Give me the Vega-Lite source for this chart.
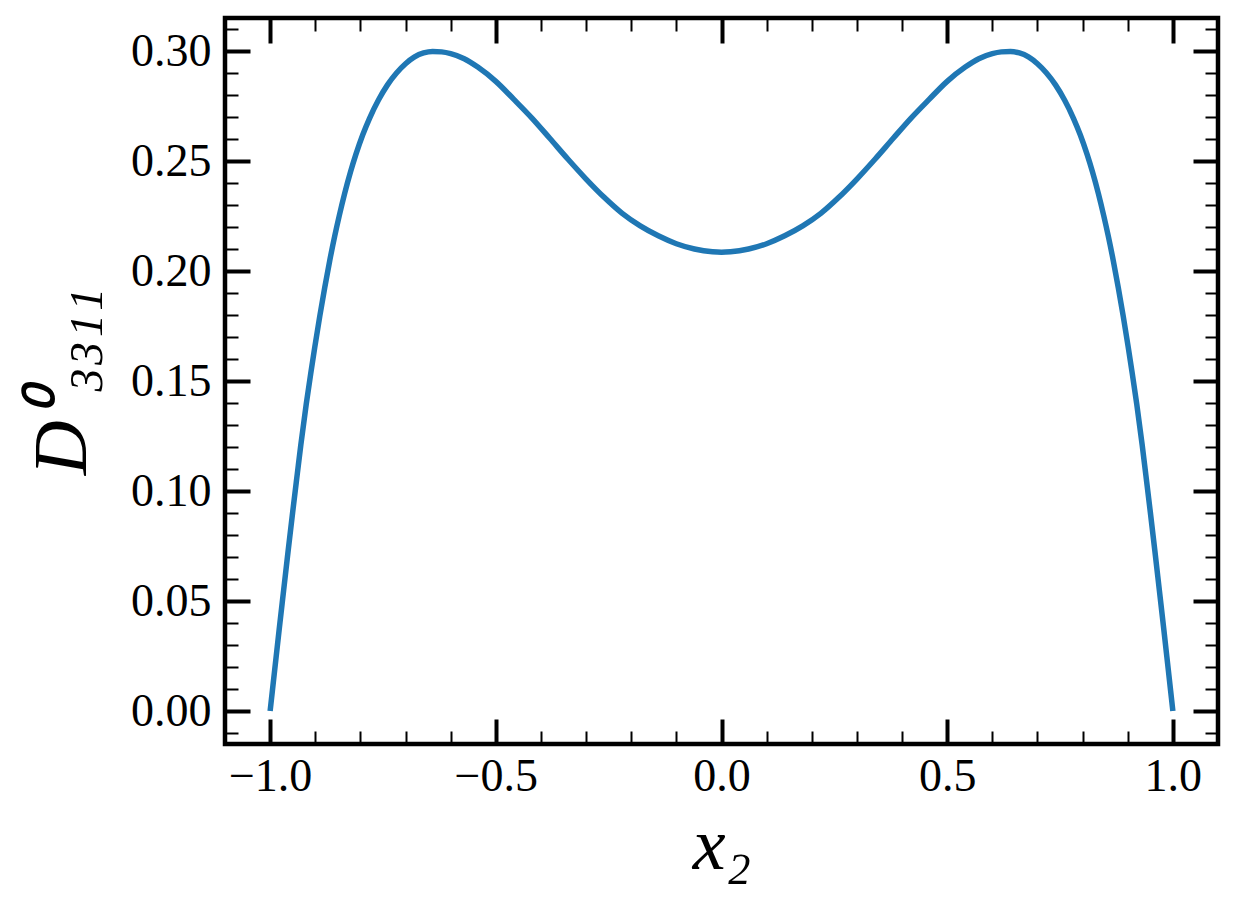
{
  "$schema": "https://vega.github.io/schema/vega-lite/v6.json",
  "autosize": "none",
  "width": 993,
  "height": 726,
  "padding": {"left": 225, "top": 18, "right": 19, "bottom": 164},
  "background": "white",
  "config": {
    "view": {"stroke": "black", "strokeWidth": 4.5},
    "font": "Liberation Serif",
    "axis": {"domain": false, "grid": false, "tickColor": "black", "labelColor": "black", "titleColor": "black"}
  },
  "data": {"values": [
    {"x": -1.0, "y": 0.0}, {"x": -0.99, "y": 0.0185}, {"x": -0.98, "y": 0.037}, {"x": -0.97, "y": 0.055},
    {"x": -0.96, "y": 0.073}, {"x": -0.95, "y": 0.0905}, {"x": -0.94, "y": 0.1075}, {"x": -0.932, "y": 0.121},
    {"x": -0.92, "y": 0.1395}, {"x": -0.91, "y": 0.1535}, {"x": -0.901, "y": 0.1655}, {"x": -0.89, "y": 0.1795},
    {"x": -0.879, "y": 0.1925}, {"x": -0.868, "y": 0.2047}, {"x": -0.857, "y": 0.2158}, {"x": -0.847, "y": 0.225},
    {"x": -0.835, "y": 0.2352}, {"x": -0.822, "y": 0.245}, {"x": -0.81, "y": 0.253}, {"x": -0.795, "y": 0.2618},
    {"x": -0.78, "y": 0.2693}, {"x": -0.76, "y": 0.2777}, {"x": -0.74, "y": 0.2846}, {"x": -0.72, "y": 0.29},
    {"x": -0.7, "y": 0.2942}, {"x": -0.68, "y": 0.2973}, {"x": -0.66, "y": 0.2991}, {"x": -0.64, "y": 0.2998},
    {"x": -0.62, "y": 0.2996}, {"x": -0.6, "y": 0.2988}, {"x": -0.57, "y": 0.2965}, {"x": -0.54, "y": 0.2927},
    {"x": -0.5, "y": 0.2862}, {"x": -0.46, "y": 0.278}, {"x": -0.42, "y": 0.2695}, {"x": -0.38, "y": 0.2602},
    {"x": -0.34, "y": 0.2508}, {"x": -0.3, "y": 0.2418}, {"x": -0.26, "y": 0.2335}, {"x": -0.22, "y": 0.2262},
    {"x": -0.18, "y": 0.2205}, {"x": -0.14, "y": 0.216}, {"x": -0.1, "y": 0.2124}, {"x": -0.06, "y": 0.21},
    {"x": -0.02, "y": 0.2087}, {"x": 0.0, "y": 0.2085},
    {"x": 0.02, "y": 0.2087}, {"x": 0.06, "y": 0.21}, {"x": 0.1, "y": 0.2124}, {"x": 0.14, "y": 0.216},
    {"x": 0.18, "y": 0.2205}, {"x": 0.22, "y": 0.2262}, {"x": 0.26, "y": 0.2335}, {"x": 0.3, "y": 0.2418},
    {"x": 0.34, "y": 0.2508}, {"x": 0.38, "y": 0.2602}, {"x": 0.42, "y": 0.2695}, {"x": 0.46, "y": 0.278},
    {"x": 0.5, "y": 0.2862}, {"x": 0.54, "y": 0.2927}, {"x": 0.57, "y": 0.2965}, {"x": 0.6, "y": 0.2988},
    {"x": 0.62, "y": 0.2996}, {"x": 0.64, "y": 0.2998}, {"x": 0.66, "y": 0.2991}, {"x": 0.68, "y": 0.2973},
    {"x": 0.7, "y": 0.2942}, {"x": 0.72, "y": 0.29}, {"x": 0.74, "y": 0.2846}, {"x": 0.76, "y": 0.2777},
    {"x": 0.78, "y": 0.2693}, {"x": 0.795, "y": 0.2618}, {"x": 0.81, "y": 0.253}, {"x": 0.822, "y": 0.245},
    {"x": 0.835, "y": 0.2352}, {"x": 0.847, "y": 0.225}, {"x": 0.857, "y": 0.2158}, {"x": 0.868, "y": 0.2047},
    {"x": 0.879, "y": 0.1925}, {"x": 0.89, "y": 0.1795}, {"x": 0.901, "y": 0.1655}, {"x": 0.91, "y": 0.1535},
    {"x": 0.92, "y": 0.1395}, {"x": 0.932, "y": 0.121}, {"x": 0.94, "y": 0.1075}, {"x": 0.95, "y": 0.0905},
    {"x": 0.96, "y": 0.073}, {"x": 0.97, "y": 0.055}, {"x": 0.98, "y": 0.037}, {"x": 0.99, "y": 0.0185},
    {"x": 1.0, "y": 0.0}
  ]},
  "layer": [
    {
      "mark": {"type": "line", "color": "#1f77b4", "strokeWidth": 5.5, "interpolate": "monotone", "clip": true},
      "encoding": {
        "x": {"field": "x", "type": "quantitative",
          "scale": {"domain": [-1.1, 1.1], "nice": false, "zero": false},
          "axis": {"orient": "bottom", "values": [-1.0, -0.9, -0.8, -0.7, -0.6, -0.5, -0.4, -0.3, -0.2, -0.1, 0.0, 0.1, 0.2, 0.3, 0.4, 0.5, 0.6, 0.7, 0.8, 0.9, 1.0],
            "tickSize": -13, "tickWidth": 2, "labels": false, "title": null}},
        "y": {"field": "y", "type": "quantitative",
          "scale": {"domain": [-0.015, 0.315], "nice": false, "zero": false},
          "axis": {"orient": "left", "values": [-0.01, 0.0, 0.01, 0.02, 0.03, 0.04, 0.05, 0.06, 0.07, 0.08, 0.09, 0.1, 0.11, 0.12, 0.13, 0.14, 0.15, 0.16, 0.17, 0.18, 0.19, 0.2, 0.21, 0.22, 0.23, 0.24, 0.25, 0.26, 0.27, 0.28, 0.29, 0.3, 0.31],
            "tickSize": -13, "tickWidth": 2, "labels": false, "title": null}}
      }
    },
    {
      "mark": {"type": "line", "opacity": 0},
      "encoding": {
        "x": {"field": "x", "type": "quantitative",
          "axis": {"orient": "top", "values": [-1.0, -0.9, -0.8, -0.7, -0.6, -0.5, -0.4, -0.3, -0.2, -0.1, 0.0, 0.1, 0.2, 0.3, 0.4, 0.5, 0.6, 0.7, 0.8, 0.9, 1.0],
            "tickSize": -13, "tickWidth": 2, "labels": false, "title": null}},
        "y": {"field": "y", "type": "quantitative",
          "axis": {"orient": "right", "values": [-0.01, 0.0, 0.01, 0.02, 0.03, 0.04, 0.05, 0.06, 0.07, 0.08, 0.09, 0.1, 0.11, 0.12, 0.13, 0.14, 0.15, 0.16, 0.17, 0.18, 0.19, 0.2, 0.21, 0.22, 0.23, 0.24, 0.25, 0.26, 0.27, 0.28, 0.29, 0.3, 0.31],
            "tickSize": -13, "tickWidth": 2, "labels": false, "title": null}}
      }
    },
    {
      "mark": {"type": "line", "opacity": 0},
      "encoding": {
        "x": {"field": "x", "type": "quantitative",
          "axis": {"orient": "bottom", "values": [-1.0, -0.5, 0.0, 0.5, 1.0], "tickSize": -25, "tickWidth": 4, "labels": false, "title": null}},
        "y": {"field": "y", "type": "quantitative",
          "axis": {"orient": "left", "values": [0.0, 0.05, 0.1, 0.15, 0.2, 0.25, 0.3], "tickSize": -25, "tickWidth": 4, "labels": false, "title": null}}
      }
    },
    {
      "mark": {"type": "line", "opacity": 0},
      "encoding": {
        "x": {"field": "x", "type": "quantitative",
          "axis": {"orient": "top", "values": [-1.0, -0.5, 0.0, 0.5, 1.0], "tickSize": -25, "tickWidth": 4, "labels": false, "title": null}},
        "y": {"field": "y", "type": "quantitative",
          "axis": {"orient": "right", "values": [0.0, 0.05, 0.1, 0.15, 0.2, 0.25, 0.3], "tickSize": -25, "tickWidth": 4, "labels": false, "title": null}}
      }
    },
    {
      "mark": {"type": "line", "opacity": 0},
      "encoding": {
        "x": {"field": "x", "type": "quantitative",
          "axis": {"orient": "bottom", "values": [-1.0, -0.5, 0.0, 0.5, 1.0], "ticks": false, "tickSize": 0,
            "format": ".1f", "labelFont": "Liberation Serif", "labelFontSize": 46, "labelPadding": 10,
            "labelFlush": false, "labelOverlap": false,
            "title": "x₂", "titleFont": "Liberation Serif", "titleFontStyle": "italic", "titleFontWeight": "normal",
            "titleFontSize": 74, "titleX": 496.5, "titleY": 124, "titleBaseline": "alphabetic", "titleAlign": "center"}},
        "y": {"field": "y", "type": "quantitative",
          "axis": {"orient": "left", "values": [0.0, 0.05, 0.1, 0.15, 0.2, 0.25, 0.3], "ticks": false, "tickSize": 0,
            "format": ".2f", "labelFont": "Liberation Serif", "labelFontSize": 46, "labelPadding": 14,
            "labelFlush": false, "labelOverlap": false,
            "title": "D⁰₃₃₁₁", "titleFont": "Liberation Serif", "titleFontStyle": "italic", "titleFontWeight": "normal",
            "titleFontSize": 76, "titleX": -140, "titleY": 363, "titleAngle": -90,
            "titleBaseline": "alphabetic", "titleAlign": "center"}}
      }
    }
  ],
  "resolve": {"axis": {"x": "independent", "y": "independent"}}
}
